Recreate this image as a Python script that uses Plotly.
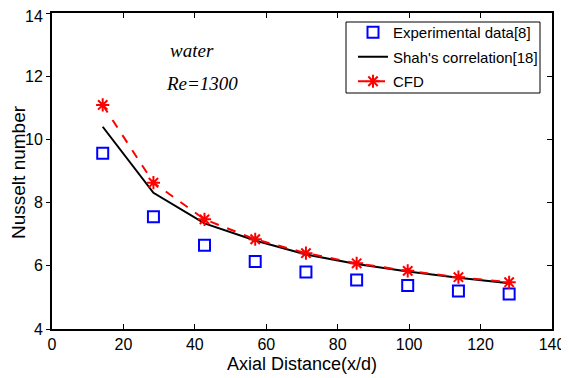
import plotly.graph_objects as go

x_dist = [14.2, 28.4, 42.7, 56.9, 71.1, 85.3, 99.6, 113.8, 128.0]
exp_nu = [9.56, 7.55, 6.65, 6.14, 5.80, 5.55, 5.38, 5.20, 5.11]
shah_nu = [10.40, 8.31, 7.34, 6.80, 6.36, 6.06, 5.82, 5.62, 5.45]
cfd_nu = [11.09, 8.63, 7.47, 6.84, 6.40, 6.08, 5.84, 5.64, 5.48]

x_ticks = [0, 20, 40, 60, 80, 100, 120, 140]
y_ticks = [4, 6, 8, 10, 12, 14]
y_ticktext = ["4", "6", "8", "10", "12", ""]   # top label "14" drawn as annotation
y_top_label = "14"

FONT = "Liberation Sans, Arial"
SERIF = "Liberation Serif, Times New Roman"

# page has an 8px body margin; plot area in page pixels: x 52..552, y 13..329
W, H = 561, 370
L, R, T, B = 44, 17, 5, 49
PX0, PX1, PY0, PY1 = 52, 552, 13, 329


def px(x):
    return (x - PX0) / (PX1 - PX0)


def py(y):
    return (PY1 - y) / (PY1 - PY0)


fig = go.Figure()
fig.add_trace(go.Scatter(x=x_dist, y=exp_nu, mode="markers", name="Experimental data[8]",
                         legendgroup="a",
                         marker=dict(symbol="square-open", size=11, color="#0000ff",
                                     line=dict(width=2, color="#0000ff"))))
fig.add_trace(go.Scatter(x=x_dist, y=shah_nu, mode="lines", name="Shah's correlation[18]",
                         legendgroup="b",
                         line=dict(color="black", width=2)))
fig.add_trace(go.Scatter(x=x_dist, y=cfd_nu, mode="lines+markers", name="CFD",
                         legendgroup="c",
                         line=dict(color="#ff0000", width=2, dash="dash"),
                         marker=dict(symbol="asterisk-open", size=11, color="#ff0000",
                                     line=dict(width=2, color="#ff0000"))))
# invisible trace to activate the right-side mirrored axis
fig.add_trace(go.Scatter(x=[x_dist[0]], y=[exp_nu[0]], yaxis="y2", mode="markers",
                         marker=dict(opacity=0), showlegend=False, hoverinfo="skip"))

tickfont = dict(family=FONT, size=16, color="black")

fig.update_layout(
    width=W, height=H,
    margin=dict(l=L, r=R, t=T, b=B, pad=0),
    paper_bgcolor="white", plot_bgcolor="white",
    xaxis=dict(range=[0, 140], tickvals=x_ticks, automargin=False, ticklabeloverflow="allow",
               showgrid=False, zeroline=False, showline=True, linecolor="black", linewidth=2,
               mirror="ticks", ticks="inside", ticklen=5, tickwidth=1, tickcolor="black",
               tickfont=tickfont),
    yaxis=dict(range=[4, 14], tickvals=y_ticks, ticktext=y_ticktext, automargin=False,
               ticklabeloverflow="allow",
               showgrid=False, zeroline=False, showline=True, linecolor="black", linewidth=2,
               mirror=False, ticks="outside", ticklen=4, tickwidth=1, tickcolor="black",
               tickfont=tickfont),
    yaxis2=dict(range=[4, 14], tickvals=y_ticks, overlaying="y", side="right", matches="y",
                automargin=False, showgrid=False, zeroline=False, showline=True, linecolor="black",
                linewidth=2, ticks="inside", ticklen=5, tickwidth=1, tickcolor="black",
                showticklabels=False),
    legend=dict(x=px(353), y=py(16), xanchor="left", yanchor="top", bgcolor="rgba(0,0,0,0)",
                borderwidth=0, tracegroupgap=2, itemwidth=30,
                font=dict(family=FONT, size=15, color="black")),
    showlegend=True,
    shapes=[dict(type="rect", xref="paper", yref="paper", x0=px(346), x1=px(540),
                 y0=py(93), y1=py(22), line=dict(color="black", width=1),
                 fillcolor="white", layer="below")],
    annotations=[
        dict(x=39.1, y=12.8, xref="x", yref="y", text="<i>water</i>", showarrow=False,
             font=dict(family=SERIF, size=19, color="black")),
        dict(x=42.0, y=11.78, xref="x", yref="y", text="<i>Re=1300</i>", showarrow=False,
             font=dict(family=SERIF, size=19, color="black")),
        dict(x=px(45), y=py(17), xref="paper", yref="paper", text=y_top_label,
             xanchor="right", yanchor="middle", showarrow=False, font=tickfont),
        dict(x=0.5, y=py(364), xref="paper", yref="paper", text="Axial Distance(x/d)",
             xanchor="center", yanchor="middle",
             showarrow=False, font=dict(family=FONT, size=18, color="black")),
        dict(x=px(18), y=py(172), xref="paper", yref="paper", text="Nusselt number",
             xanchor="center", yanchor="middle",
             textangle=-90, showarrow=False, font=dict(family=FONT, size=19, color="black")),
    ],
)

fig.write_html("out.html")
